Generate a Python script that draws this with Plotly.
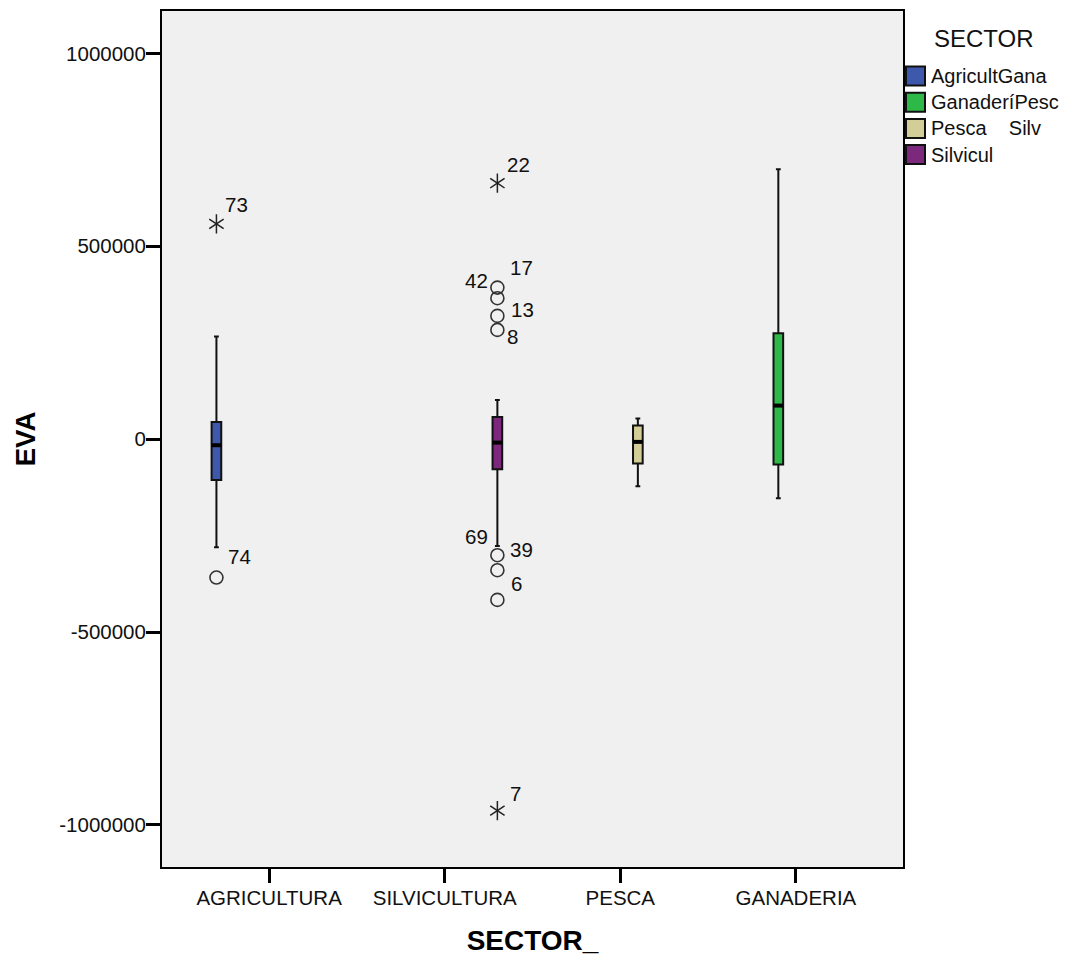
import plotly.graph_objects as go

# ---- data -------------------------------------------------------------
categories = ["AGRICULTURA", "SILVICULTURA", "PESCA", "GANADERIA"]
sector_names = ["AgricultGana", "GanaderíPesc", "Pesca\u00a0\u00a0\u00a0\u00a0Silv", "Silvicul"]
sector_colors = ["#3E58AC", "#2EB848", "#D3CE97", "#7C287D"]
# legend slot (sector) that holds each category's box
category_sector = [0, 3, 2, 1]

box_q1 = [-105500, -77800, -63200, -65800]
box_median = [-15600, -8800, -7000, 87100]
box_q3 = [44800, 57800, 35300, 274800]
box_lower = [-280000, -276600, -121800, -152900]
box_upper = [266000, 101900, 53400, 699900]

# cases beyond the whiskers
outlier_category = [0, 0, 1, 1, 1, 1, 1, 1, 1, 1, 1]
outlier_value = [558100, -358700, 663600, 393000, 365500, 319600, 283300,
                 -300700, -339600, -416600, -962700]
outlier_case = ["73", "74", "22", "17", "42", "13", "8", "69", "39", "6", "7"]
outlier_extreme = [True, False, True, False, False, False, False,
                   False, False, False, True]

y_ticks = [-1000000, -500000, 0, 500000, 1000000]

# ---- styling ------------------------------------------------------------
FONT = "Arial, Liberation Sans, sans-serif"
SLOT = 0.2          # spacing between sector slots inside a category
BOX_W = 0.055       # box width in category units
X_RANGE = [-0.61, 3.61]
Y_RANGE = [-1109000, 1110000]

# case label placement around its marker: (anchor side, dx px, dy px; +dy = down)
label_place = {
    "73": ("left", 7, -19), "74": ("left", 10, -21), "22": ("left", 7.5, -19),
    "17": ("left", 11, -20), "42": ("right", -7.5, -17.6), "13": ("left", 11.5, -6),
    "8": ("left", 7.5, 6.7), "69": ("right", -7.5, -19), "39": ("left", 10.5, -21),
    "6": ("left", 11.5, -16), "7": ("left", 10.5, -17),
}

# plot area in pixels
L, R, T, B = 162, 903, 11, 867
W_PX, H_PX = 1074, 959


def px_x(p):
    return (p - L) / (R - L)


def px_y(p):
    return (B - p) / (B - T)


def box_pos(ci):
    return ci + (category_sector[ci] - 1.5) * SLOT


fig = go.Figure()

for ci, cat in enumerate(categories):
    s = category_sector[ci]
    xpos = box_pos(ci)
    fig.add_trace(go.Box(
        x=[xpos], q1=[box_q1[ci]], median=[box_median[ci]], q3=[box_q3[ci]],
        lowerfence=[box_lower[ci]], upperfence=[box_upper[ci]],
        width=BOX_W, whiskerwidth=0.5, boxpoints=False,
        fillcolor=sector_colors[s], line=dict(color="#111111", width=2),
        name=sector_names[s], showlegend=False, hoverinfo="skip",
    ))
    # heavier median bar
    fig.add_trace(go.Scatter(
        x=[xpos - BOX_W / 2, xpos + BOX_W / 2], y=[box_median[ci], box_median[ci]],
        mode="lines", line=dict(color="#000000", width=4),
        showlegend=False, hoverinfo="skip",
    ))

ox = [box_pos(c) for c in outlier_category]

# mild outliers: open circles
cx = [x for x, e in zip(ox, outlier_extreme) if not e]
cy = [v for v, e in zip(outlier_value, outlier_extreme) if not e]
fig.add_trace(go.Scatter(
    x=cx, y=cy, mode="markers",
    marker=dict(symbol="circle-open", size=13, color="#333333", line=dict(width=1.6)),
    showlegend=False, hoverinfo="skip",
))

# extreme values: six-armed asterisks
ex = [x for x, e in zip(ox, outlier_extreme) if e]
ey = [v for v, e in zip(outlier_value, outlier_extreme) if e]
for sym in ("y-up-open", "y-down-open"):
    fig.add_trace(go.Scatter(
        x=ex, y=ey, mode="markers",
        marker=dict(symbol=sym, size=12, color="#222222", line=dict(width=1.5, color="#222222")),
        showlegend=False, hoverinfo="skip",
    ))

# case numbers next to their markers
for x, v, case in zip(ox, outlier_value, outlier_case):
    side, dx, dy = label_place[case]
    fig.add_annotation(
        x=x, y=v, xref="x", yref="y", text=case, showarrow=False,
        xanchor=side, yanchor="middle", xshift=dx, yshift=-dy,
        font=dict(family=FONT, size=20.5, color="#111111"),
    )

# sector key on the right
fig.add_annotation(
    x=px_x(932), y=px_y(38.5), xref="paper", yref="paper", text="SECTOR",
    showarrow=False, xanchor="left", yanchor="middle",
    font=dict(family=FONT, size=24, color="#111111"),
)
for i, (name, col) in enumerate(zip(sector_names, sector_colors)):
    cy_px = 76 + i * 26.2
    fig.add_shape(
        type="rect", xref="paper", yref="paper",
        x0=px_x(906), x1=px_x(925), y0=px_y(cy_px - 9.5), y1=px_y(cy_px + 9.5),
        fillcolor=col, line=dict(color="#111111", width=2),
    )
    fig.add_annotation(
        x=px_x(929), y=px_y(cy_px), xref="paper", yref="paper", text=name,
        showarrow=False, xanchor="left", yanchor="middle",
        font=dict(family=FONT, size=20, color="#111111"),
    )

fig.update_layout(
    width=W_PX, height=H_PX,
    margin=dict(l=L, r=W_PX - R, t=T, b=H_PX - B, autoexpand=False),
    paper_bgcolor="white", plot_bgcolor="#F0F0F0",
    font=dict(family=FONT, size=20, color="#111111"),
    showlegend=False,
    xaxis=dict(
        range=X_RANGE, tickmode="array", tickvals=list(range(len(categories))),
        ticktext=categories, ticks="outside", ticklen=14, tickwidth=3, tickcolor="#000000",
        showline=True, mirror=True, linewidth=2, linecolor="#000000",
        showgrid=False, zeroline=False, fixedrange=True, ticklabelstandoff=-3,
        tickfont=dict(family=FONT, size=20.5, color="#111111"),
        title=dict(text="<b>SECTOR_</b>", font=dict(family=FONT, size=28, color="#000000"), standoff=23),
    ),
    yaxis=dict(
        range=Y_RANGE, tickmode="array", tickvals=y_ticks, ticktext=[str(t) for t in y_ticks],
        ticks="outside", ticklen=14, tickwidth=3, tickcolor="#000000",
        showline=True, mirror=True, linewidth=2, linecolor="#000000",
        showgrid=False, zeroline=False, fixedrange=True, ticklabelstandoff=-4,
        tickfont=dict(family=FONT, size=20.5, color="#111111"),
        title=dict(text="<b>EVA</b>", font=dict(family=FONT, size=27.5, color="#000000"), standoff=16),
    ),
)

fig.write_html("out.html")
